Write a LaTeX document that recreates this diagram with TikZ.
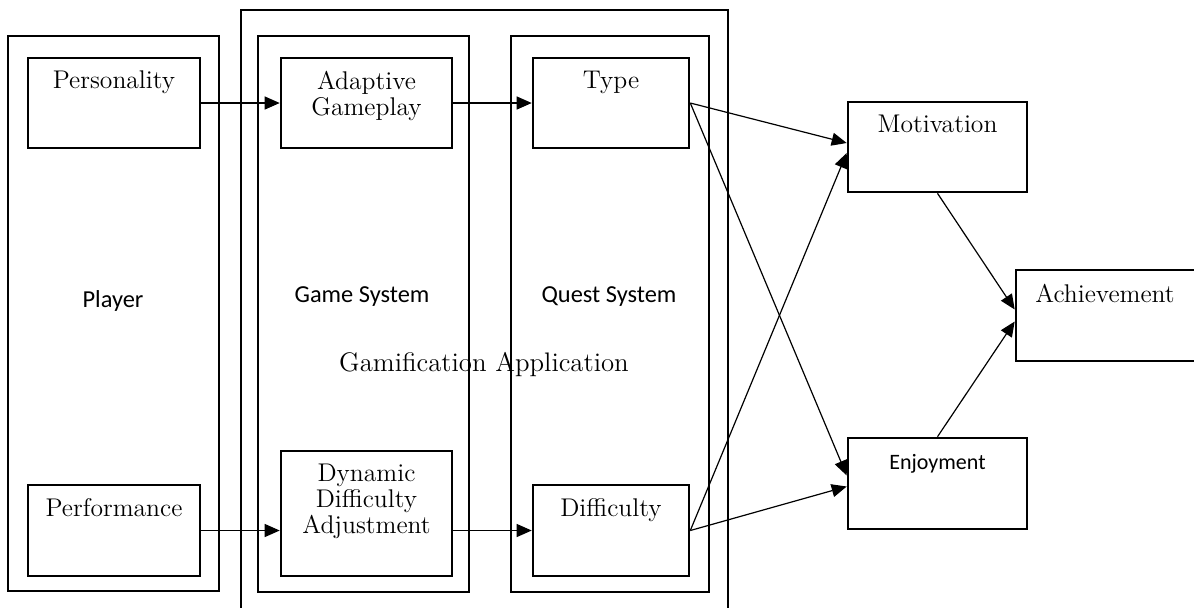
\documentclass[tikz,border=0pt]{standalone}
\usepackage{fontspec}
\newfontfamily\carlito{Carlito}
\usetikzlibrary{arrows.meta,fit}
\begin{document}
\begin{tikzpicture}[x=0.5pt,y=-0.5pt,
  frame/.style={draw, line width=1.3pt, inner sep=0pt},
  box/.style={draw, line width=1.3pt, inner sep=0pt},
  toplab/.style={anchor=north, yshift=-7pt, inner sep=0pt, align=center,
    font=\fontsize{12.8}{13}\selectfont},
  sanslab/.style={anchor=north, yshift=-8.5pt, inner sep=0pt,
    font=\carlito\fontsize{11}{13}\selectfont},
  grouplab/.style={inner sep=0pt, font=\carlito\fontsize{12.2}{14}\selectfont},
  titlelab/.style={inner sep=0pt, font=\fontsize{13.4}{14}\selectfont},
  arr/.style={-{Triangle[length=7.5pt,width=6.5pt]}, line width=0.6pt}
]
\useasboundingbox (0,0) rectangle (1194,607);
\fill[white] (0,0) rectangle (1194,607);

% containers
\node[frame, fit={(8,36) (219,591)}] (player) {};
\draw[line width=1.3pt] (241,615) -- (241,10) -- (728,10) -- (728,615);
\node[frame, fit={(258,36) (469,592)}] (game) {};
\node[frame, fit={(511,36) (709,592)}] (quest) {};

% inner boxes
\node[box, fit={(28,58) (200,148)}, label={[toplab]north:Personality}] (pers) {};
\node[box, fit={(28,485) (200,576)}, label={[toplab]north:Performance}] (perf) {};
\node[box, fit={(281,58) (452,148)}, label={[toplab]north:Adaptive\\Gameplay}] (adapt) {};
\node[box, fit={(281,451) (452,576)}, label={[toplab]north:Dynamic\\Difficulty\\Adjustment}] (dda) {};
\node[box, fit={(533,58) (689,148)}, label={[toplab]north:Type}] (type) {};
\node[box, fit={(533,485) (689,576)}, label={[toplab]north:Difficulty}] (diff) {};
\node[box, fit={(848,102) (1027,192)}, label={[toplab]north:Motivation}] (motiv) {};
\node[box, fit={(848,438) (1027,529)}, label={[sanslab]north:Enjoyment}] (enjoy) {};
\node[box, fit={(1016,270) (1202,361)}] (ach) {};
\node[toplab] (achT) at (1105,270) {Achievement};

% group labels
\node[grouplab] (playerT) at (113,301) {Player};
\node[grouplab] (gameT) at (362,297) {Game System};
\node[grouplab] (questT) at (609,297) {Quest System};
\node[titlelab] (gamifT) at (484,365) {Gamification Application};

% connectors
\draw[arr] (pers.east) -- (adapt.west);
\draw[arr] (adapt.east) -- (type.west);
\draw[arr] (perf.east) -- (perf.east -| dda.west);
\draw[arr] (diff.west -| dda.east) -- (diff.west);
\draw[arr] (type.east) -- ([yshift=2pt]motiv.west);
\draw[arr] (type.east) -- ([yshift=4pt]enjoy.west);
\draw[arr] (diff.east) -- ([yshift=-3pt]motiv.west);
\draw[arr] (diff.east) -- ([yshift=-1.5pt]enjoy.west);
\draw[arr] (motiv.south) -- ([yshift=3pt]ach.west);
\draw[arr] (enjoy.north) -- ([yshift=-3pt]ach.west);
\end{tikzpicture}
\end{document}
